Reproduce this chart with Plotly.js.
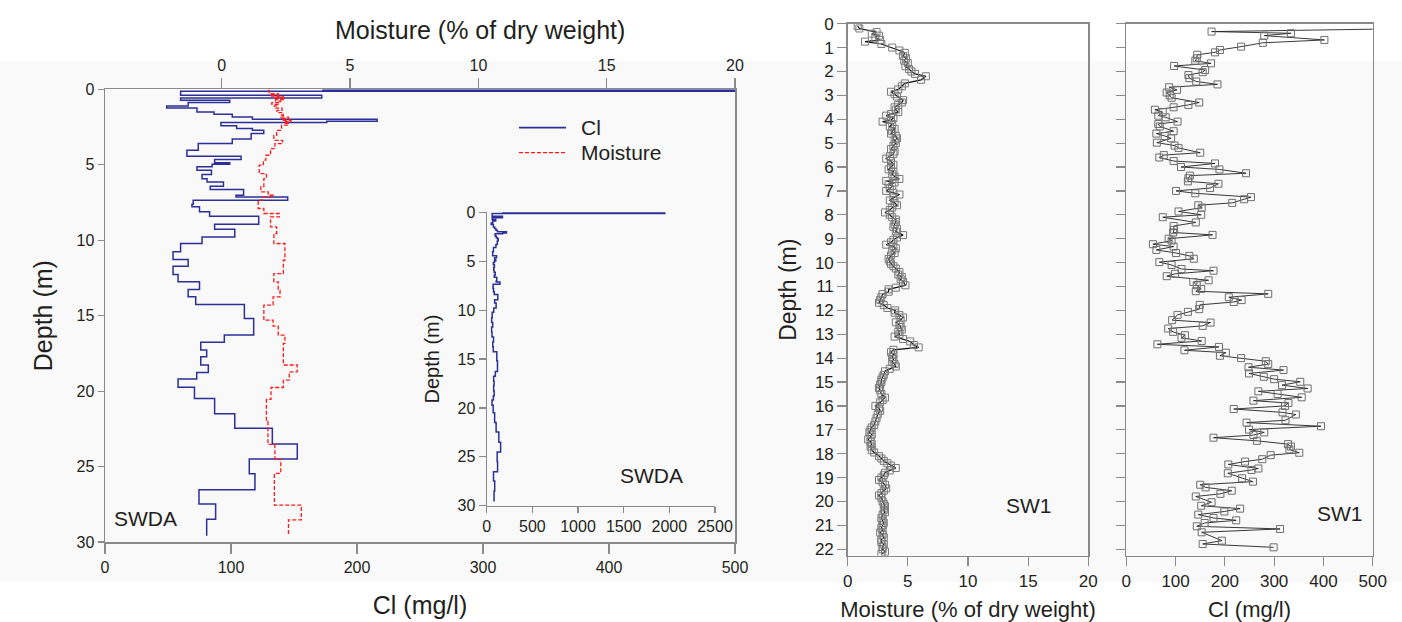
<!DOCTYPE html>
<html>
<head>
<meta charset="utf-8">
<script src="https://cdn.plot.ly/plotly-3.0.1.min.js"></script>
<style>html,body{margin:0;padding:0;background:#fff;}#chart{width:1402px;height:622px;}</style>
</head>
<body>
<div id="chart"></div>
<script>
// ---- SWDA borehole: Cl (step profile, top depth of each interval) ----
const swdaClDepth = [0.00,0.05,0.13,0.40,0.57,0.73,0.88,1.10,1.24,1.50,1.66,1.83,1.98,2.11,2.20,2.42,2.60,2.71,2.93,3.30,3.60,4.04,4.44,4.66,4.86,4.97,5.14,5.36,5.65,5.92,6.14,6.42,6.64,7.02,7.13,7.35,7.62,7.79,8.12,8.41,8.94,9.27,9.78,10.22,10.77,11.28,11.72,12.27,12.76,13.27,13.75,14.26,15.19,16.29,16.77,17.27,17.72,18.27,18.77,19.20,19.74,20.49,21.50,22.47,23.50,24.50,25.47,26.53,27.48,28.50,29.58];
const swdaCl      = [173,1950,60,172,60,99,66,49,73,86.5,101,117,216,176,92,104.5,117,126,116,101,74,65,108,87,99,85,73,84.5,77,81,94,83.5,110,104,145,70,69,75,83,122,87,103,77,60,54,66,54,58,75,66,72,110.6,118,94.7,76,80.7,76,82,72.8,58,71,87,103,132.8,152.6,114.5,119,74.6,87.8,80.7,80.7];

// ---- SWDA borehole: moisture (% of dry weight, step profile) ----
const swdaMoistDepth = [0.00,0.29,0.36,0.45,0.52,0.60,0.68,0.78,0.88,1.00,1.10,1.25,1.40,1.55,1.72,1.85,1.95,2.05,2.15,2.25,2.38,2.72,3.05,3.38,3.60,3.93,4.37,4.70,5.03,5.59,5.92,6.47,6.80,7.02,7.15,7.35,7.90,8.23,8.46,9.12,9.56,10.22,11.33,12.21,12.76,13.31,13.75,14.30,15.30,15.70,16.29,16.84,18.27,18.72,19.27,19.76,20.55,22.00,23.53,24.52,25.45,27.55,28.54,29.58];
const swdaMoist      = [1.84,2.2,1.9,2.4,2.05,2.45,2.1,2.3,1.95,2.2,2.05,2.35,2.15,2.4,2.3,2.6,2.35,2.7,2.45,2.6,2.33,2.14,2.03,2.37,2.07,1.9,1.72,1.62,1.46,1.74,1.64,1.52,1.81,2.0,1.6,1.42,1.64,2.24,1.9,2.14,2.03,2.46,2.4,2.03,2.2,2.27,2.0,1.64,2.0,2.2,2.46,2.4,2.94,2.63,2.4,1.92,1.74,1.8,2.07,2.3,2.05,3.1,2.6,2.6];

// ---- SW1 borehole: moisture ----
const sw1MoistDepth = [0.10,0.20,0.35,0.42,0.50,0.58,0.68,0.75,0.85,1.00,1.12,1.22,1.35,1.45,1.55,1.65,1.78,1.90,2.00,2.10,2.20,2.35,2.50,2.62,2.75,2.85,2.95,3.05,3.20,3.30,3.40,3.50,3.60,3.70,3.78,3.85,3.95,4.03,4.10,4.20,4.30,4.40,4.50,4.60,4.70,4.80,4.90,5.00,5.12,5.25,5.35,5.45,5.55,5.65,5.75,5.90,6.00,6.10,6.20,6.30,6.40,6.50,6.58,6.65,6.72,6.80,6.90,7.00,7.08,7.15,7.28,7.40,7.50,7.60,7.70,7.80,7.90,8.00,8.10,8.20,8.30,8.40,8.50,8.60,8.70,8.85,8.95,9.05,9.15,9.25,9.32,9.40,9.50,9.60,9.70,9.85,9.95,10.05,10.15,10.25,10.40,10.50,10.60,10.70,10.80,10.95,11.05,11.12,11.22,11.32,11.45,11.56,11.68,11.78,11.90,12.00,12.10,12.20,12.30,12.40,12.50,12.60,12.70,12.80,12.90,13.00,13.10,13.20,13.30,13.45,13.55,13.65,13.75,13.85,13.95,14.05,14.15,14.25,14.35,14.45,14.55,14.70,14.80,14.90,15.00,15.10,15.25,15.35,15.50,15.65,15.75,15.85,16.00,16.10,16.20,16.35,16.50,16.65,16.80,16.90,17.00,17.10,17.20,17.30,17.40,17.50,17.60,17.70,17.85,17.95,18.10,18.20,18.30,18.40,18.50,18.60,18.70,18.80,18.90,19.00,19.10,19.20,19.30,19.45,19.55,19.65,19.75,19.85,20.00,20.10,20.20,20.35,20.45,20.55,20.70,20.80,20.90,21.00,21.10,21.20,21.30,21.40,21.50,21.60,21.70,21.80,21.90,22.00,22.10,22.20];
const sw1Moist      = [0.83,0.97,2.4,2.0,2.6,2.3,2.7,1.44,2.8,3.7,4.3,4.75,4.6,4.85,4.7,5.0,4.8,5.1,5.3,5.6,6.5,6.1,4.75,4.5,4.2,3.6,3.9,4.1,4.6,4.5,4.2,3.9,4.0,4.2,3.6,3.2,3.8,3.6,2.9,3.7,3.5,3.9,3.7,3.6,4.0,4.1,3.9,4.0,3.8,3.6,3.9,3.8,3.5,3.2,3.6,3.8,3.6,3.4,3.8,3.7,3.9,4.3,3.2,3.9,3.4,3.7,3.5,3.2,3.8,4.3,3.8,3.5,3.9,4.1,3.7,3.5,3.1,3.5,3.7,4.0,4.0,3.9,3.8,4.1,4.0,4.6,4.1,3.8,3.6,3.2,3.8,4.0,3.7,3.9,3.6,3.4,3.5,3.6,3.8,4.0,4.3,4.2,4.5,4.4,4.6,4.8,4.0,3.4,3.4,2.9,2.8,2.7,2.6,3.0,3.3,3.95,3.9,4.3,4.6,4.4,4.0,4.3,4.4,4.5,4.2,4.3,3.9,4.6,5.2,5.5,5.9,3.8,3.6,3.8,3.7,3.8,3.7,3.9,4.0,3.5,3.1,3.0,2.9,2.8,2.8,2.7,2.6,2.7,2.8,3.1,2.9,2.7,2.3,2.6,2.7,2.5,2.4,2.3,2.2,2.0,1.9,1.8,2.0,1.9,1.7,1.9,2.0,1.9,2.0,2.2,2.6,2.8,3.0,3.3,3.6,4.0,3.5,3.1,3.0,2.8,2.6,2.9,3.1,3.2,3.0,2.8,2.6,2.8,2.9,3.0,3.1,3.0,3.1,2.9,2.8,2.9,3.0,2.9,2.8,2.9,2.7,2.9,3.0,2.8,2.8,3.0,2.9,2.9,3.1,2.8];

// ---- SW1 borehole: Cl (mg/l) ----
const sw1ClDepth = [0.20,0.33,0.40,0.50,0.68,0.80,0.96,1.10,1.20,1.30,1.45,1.55,1.66,1.77,1.94,2.03,2.15,2.28,2.42,2.54,2.66,2.77,2.88,3.00,3.10,3.30,3.40,3.50,3.60,3.70,3.85,3.92,4.10,4.20,4.30,4.50,4.60,4.70,4.80,4.98,5.10,5.20,5.40,5.50,5.60,5.75,5.85,6.00,6.10,6.26,6.36,6.47,6.60,6.70,6.88,7.00,7.10,7.26,7.35,7.50,7.60,7.70,7.86,8.00,8.10,8.32,8.47,8.63,8.74,8.84,9.00,9.08,9.23,9.33,9.47,9.60,9.72,9.84,9.98,10.10,10.27,10.34,10.47,10.57,10.74,10.81,10.95,11.10,11.20,11.31,11.45,11.57,11.65,11.77,11.95,12.06,12.19,12.41,12.51,12.65,12.76,12.90,13.04,13.15,13.28,13.42,13.53,13.67,13.77,13.90,14.00,14.13,14.25,14.38,14.50,14.64,14.78,14.88,14.99,15.13,15.27,15.39,15.50,15.64,15.78,15.88,16.00,16.13,16.27,16.36,16.60,16.70,16.85,16.99,17.11,17.22,17.33,17.46,17.60,17.70,17.82,17.96,18.06,18.23,18.33,18.45,18.62,18.68,18.82,19.03,19.17,19.30,19.41,19.55,19.68,19.79,20.03,20.18,20.30,20.42,20.55,20.69,20.79,20.90,21.04,21.15,21.29,21.64,21.78,21.92];
const sw1Cl      = [600,173,334,280,402,277,233,190,180,144,143,140,172,97,160,155,126,128,142,185,87,103,82,88,92,148,126,96,58,74,65,80,104,65,68,96,61,78,91,62,98,106,150,76,67,96,180,111,189,243,129,126,125,187,170,101,140,253,239,215,146,153,106,152,74,141,96,97,95,175,86,92,54,96,61,101,128,137,67,92,112,177,99,82,167,136,143,152,141,288,208,234,218,149,148,125,104,93,171,155,85,95,119,112,153,63,188,118,202,190,233,283,288,248,319,249,279,300,353,316,368,268,307,356,258,329,322,218,317,344,323,244,395,249,280,258,177,265,328,334,331,351,293,276,241,207,268,254,206,235,257,150,161,214,191,141,173,152,231,199,146,177,223,159,143,312,153,194,155,299];

// ---- tick labels ----
const clTicks = [0,100,200,300,400,500];
const moistTicks = [0,5,10,15,20];
const insetTicks = [0,500,1000,1500,2000,2500];
const sw1DepthTicks = [0,1,2,3,4,5,6,7,8,9,10,11,12,13,14,15,16,17,18,19,20,21,22];

const W = 1402, H = 622;
const px = v => v / W;
const py = v => (H - v) / H;

const FONT = 'Liberation Sans, Arial, Helvetica, sans-serif';
const TXT = '#231f20';
const AX = '#8a8a8a';
const BLUE = '#2b2f96';
const RED = '#ff1a1a';

function axBase(extra) {
  return Object.assign({
    showline: true, linecolor: AX, linewidth: 1.5,
    ticks: 'outside', tickcolor: AX, tickwidth: 1.2,
    showgrid: false, zeroline: false, fixedrange: true,
    tickfont: {family: FONT, size: 16, color: TXT}
  }, extra);
}

const traces = [
  {x: swdaCl, y: swdaClDepth, xaxis: 'x', yaxis: 'y', mode: 'lines', name: 'Cl',
   line: {color: BLUE, width: 1.5, shape: 'vh'}, showlegend: false, hoverinfo: 'skip'},
  {x: swdaMoist, y: swdaMoistDepth, xaxis: 'x2', yaxis: 'y', mode: 'lines', name: 'Moisture',
   line: {color: RED, width: 1.3, dash: '4px,2px', shape: 'vh'}, showlegend: false, hoverinfo: 'skip'},
  {x: swdaCl, y: swdaClDepth, xaxis: 'x3', yaxis: 'y3', mode: 'lines', name: 'Cl (inset)',
   line: {color: BLUE, width: 1.5, shape: 'vh'}, showlegend: false, hoverinfo: 'skip'},
  {x: sw1Moist, y: sw1MoistDepth, xaxis: 'x4', yaxis: 'y4', mode: 'lines+markers', name: 'SW1 moisture',
   line: {color: '#111', width: 1.2},
   marker: {symbol: 'square-open', size: 7, color: '#7a7a7a', line: {width: 1, color: '#7a7a7a'}},
   showlegend: false, hoverinfo: 'skip'},
  {x: sw1Cl, y: sw1ClDepth, xaxis: 'x5', yaxis: 'y5', mode: 'lines+markers', name: 'SW1 Cl',
   line: {color: '#222', width: 0.9},
   marker: {symbol: 'square-open', size: 7, color: '#6e6e6e', line: {width: 1, color: '#6e6e6e'}},
   showlegend: false, hoverinfo: 'skip'}
];

const layout = {
  width: W, height: H,
  margin: {l: 0, r: 0, t: 0, b: 0},
  paper_bgcolor: '#ffffff',
  plot_bgcolor: 'rgba(0,0,0,0)',
  showlegend: false,
  font: {family: FONT, color: TXT},
  // left main panel (SWDA)
  xaxis: axBase({domain: [px(105), px(735)], anchor: 'y', range: [0, 500], tickvals: clTicks, ticklen: 10,
    title: {text: 'Cl (mg/l)', font: {family: FONT, size: 25, color: TXT}, standoff: 22}}),
  xaxis2: axBase({overlaying: 'x', side: 'top', anchor: 'y', range: [-4.55, 20], tickvals: moistTicks, ticklen: 10}),
  yaxis: axBase({domain: [py(542), py(89.3)], anchor: 'x', range: [30, 0], dtick: 5, ticklen: 6, mirror: true,
    title: {text: 'Depth (m)', font: {family: FONT, size: 25, color: TXT}, standoff: 16}}),
  // inset
  xaxis3: axBase({domain: [px(486.7), px(715)], anchor: 'y3', range: [0, 2500], tickvals: insetTicks, ticklen: 6,
    linewidth: 1.2, tickfont: {family: FONT, size: 16, color: TXT}}),
  yaxis3: axBase({domain: [py(505.7), py(212.3)], anchor: 'x3', range: [30, 0], dtick: 5, ticklen: 7,
    linewidth: 1.2, tickfont: {family: FONT, size: 16, color: TXT},
    title: {text: 'Depth (m)', font: {family: FONT, size: 20, color: TXT}, standoff: 12}}),
  // SW1 moisture
  xaxis4: axBase({domain: [px(847.7), px(1088.3)], anchor: 'y4', range: [0, 20], tickvals: moistTicks, ticklen: 9, mirror: true,
    tickfont: {family: FONT, size: 17, color: TXT},
    title: {text: 'Moisture (% of dry weight)', font: {family: FONT, size: 22, color: TXT}, standoff: 13}}),
  yaxis4: axBase({domain: [py(555.7), py(23.7)], anchor: 'x4', range: [22.27, 0], tickvals: sw1DepthTicks, ticklen: 9, mirror: true,
    tickfont: {family: FONT, size: 17, color: TXT},
    title: {text: 'Depth (m)', font: {family: FONT, size: 23, color: TXT}, standoff: 12}}),
  // SW1 Cl
  xaxis5: axBase({domain: [px(1126.3), px(1372.7)], anchor: 'y5', range: [0, 500], tickvals: clTicks, ticklen: 9, mirror: true,
    tickfont: {family: FONT, size: 17, color: TXT},
    title: {text: 'Cl (mg/l)', font: {family: FONT, size: 22, color: TXT}, standoff: 13}}),
  yaxis5: axBase({domain: [py(555.7), py(23.7)], anchor: 'x5', range: [22.27, 0], tickvals: sw1DepthTicks, ticklen: 9, mirror: true,
    showticklabels: false}),
  shapes: [
    {type: 'rect', xref: 'paper', yref: 'paper', x0: 0, x1: 1, y0: py(582), y1: py(61),
     fillcolor: '#f9f9f9', line: {width: 0}, layer: 'below'},
    {type: 'line', xref: 'paper', yref: 'paper', x0: px(519), x1: px(566), y0: py(127.7), y1: py(127.7),
     line: {color: BLUE, width: 1.8}},
    {type: 'line', xref: 'paper', yref: 'paper', x0: px(519), x1: px(566), y0: py(152.7), y1: py(152.7),
     line: {color: RED, width: 1.3, dash: '4px,2px'}}
  ],
  annotations: [
    {xref: 'paper', yref: 'paper', x: px(480), y: py(30), xanchor: 'center', yanchor: 'middle', showarrow: false,
     text: 'Moisture (% of dry weight)', font: {family: FONT, size: 25, color: TXT}},
    {xref: 'paper', yref: 'paper', x: px(579), y: py(127.7), xanchor: 'left', yanchor: 'middle', showarrow: false,
     text: 'Cl', font: {family: FONT, size: 21, color: TXT}},
    {xref: 'paper', yref: 'paper', x: px(579), y: py(152.7), xanchor: 'left', yanchor: 'middle', showarrow: false,
     text: 'Moisture', font: {family: FONT, size: 21, color: TXT}},
    {xref: 'paper', yref: 'paper', x: px(145.5), y: py(518.3), xanchor: 'center', yanchor: 'middle', showarrow: false,
     text: 'SWDA', font: {family: FONT, size: 21, color: TXT}},
    {xref: 'paper', yref: 'paper', x: px(651), y: py(475), xanchor: 'center', yanchor: 'middle', showarrow: false,
     text: 'SWDA', font: {family: FONT, size: 21, color: TXT}},
    {xref: 'paper', yref: 'paper', x: px(1028.7), y: py(505), xanchor: 'center', yanchor: 'middle', showarrow: false,
     text: 'SW1', font: {family: FONT, size: 21, color: TXT}},
    {xref: 'paper', yref: 'paper', x: px(1340), y: py(513), xanchor: 'center', yanchor: 'middle', showarrow: false,
     text: 'SW1', font: {family: FONT, size: 21, color: TXT}}
  ]
};

Plotly.newPlot('chart', traces, layout, {displayModeBar: false, staticPlot: true});
</script>
</body>
</html>
